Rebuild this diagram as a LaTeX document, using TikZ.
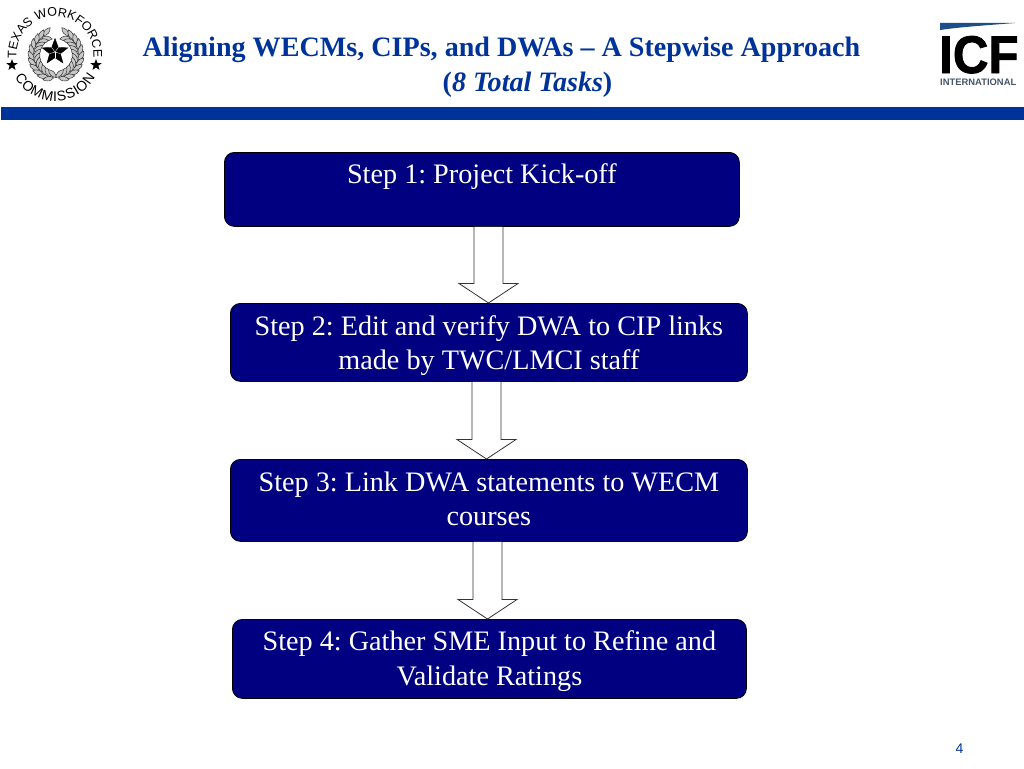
\documentclass[tikz,border=0pt]{standalone}
\usepackage{fontspec}
\setmainfont{Liberation Serif}
\newfontfamily\sansf{Liberation Sans}
\newfontfamily\icff[BoldFeatures={FakeBold=1.5}]{Liberation Sans}
\usetikzlibrary{calc,decorations.text,shapes.geometric}
\definecolor{band}{RGB}{0,51,153}
\definecolor{navybox}{RGB}{0,0,128}
\definecolor{swoosh}{RGB}{28,78,140}
\definecolor{icfgray}{RGB}{70,85,105}
\tikzset{
  x=1pt,y=-1pt,
  stepbox/.style={draw=black,line width=0.8pt,fill=navybox,rounded corners=10pt,text=white,
    align=center,anchor=north west,inner sep=0pt,
    font=\fontsize{28.2}{34.5}\selectfont},
  blockarrow/.style={draw=black!80,line width=0.8pt,fill=white,line join=miter},
  titletext/.style={text=band,font=\fontsize{28.1}{35}\selectfont\bfseries,align=center,inner sep=0pt},
  leaf/.style={draw=black!85,line width=0.45pt,fill=black!22},
  smallstar/.style={star,star points=5,star point ratio=2.4,fill=black,inner sep=0pt,minimum size=12pt},
}
\newcommand{\stepbox}[6]{% name x0 y0 x1 y1 text
  \node[stepbox,minimum width=#4pt-#2pt,minimum height=#5pt-#3pt] (#1) at (#2,#3) {#6};}
\newcommand{\betweenarrow}[3]{% from to centre-x
  \coordinate (s) at (#1.south -| #3,0);
  \coordinate (t) at (#2.north -| #3,0);
  \draw[blockarrow] ($(s)+(-14.5,0)$) -- ($(t)+(-14.5,-19.5)$) -- ($(t)+(-29.5,-19.5)$) -- (t)
    -- ($(t)+(29.5,-19.5)$) -- ($(t)+(14.5,-19.5)$) -- ($(s)+(14.5,0)$);}
\newcommand{\sealleaf}[3]{% angle, radius, rotation
  \draw[leaf,shift={($(wreath)+({#2*cos(#1)},{-#2*sin(#1)})$)},rotate=#3]
    (-5.5,0) .. controls (-2,-3) and (2,-3) .. (5.5,0) .. controls (2,3) and (-2,3) .. (-5.5,0);}
\begin{document}
\begin{tikzpicture}
\frenchspacing
\useasboundingbox (0,0) rectangle (1024,768);
\fill[white] (0,0) rectangle (1024,768);
% band
\fill[band] (1,107) rectangle (1024,120);
% title
\node[titletext] (title) at (501.5,67) {Aligning WECMs, CIPs, and DWAs -- A Stepwise Approach\\\hspace*{52pt}({\itshape 8 Total Tasks})};
% boxes
\stepbox{box1}{224}{152}{739}{226}{\rule{0pt}{23pt}Step 1: Project Kick-off\\~}
\stepbox{box2}{230}{303}{747}{381}{\rule{0pt}{26pt}Step 2: Edit and verify DWA to CIP links\\made by TWC/LMCI staff}
\stepbox{box3}{230}{459}{747}{541}{Step 3: Link DWA statements to WECM\\courses\rule[-3pt]{0pt}{3pt}}
\stepbox{box4}{232}{619}{746}{698}{\rule{0pt}{24pt}Step 4: Gather SME Input to Refine and\\Validate Ratings}
% arrows
\betweenarrow{box1}{box2}{488.5}
\betweenarrow{box2}{box3}{486.5}
\betweenarrow{box3}{box4}{487.5}
% page number
\node[inner sep=0pt,text=band,font=\sansf\fontsize{14}{14}\selectfont] (pagenum) at (959.5,749) {4};
% seal
\coordinate (seal) at (55,55);
\coordinate (wreath) at (56,55);
\path[decorate,decoration={text along path,text align=center,
  text={|\sansf\fontsize{12.5}{12.5}\selectfont|TEXAS WORKFORCE}}]
  ($(seal)+({-38.5*cos(30)},{38.5*sin(30)})$) arc[start angle=150,end angle=390,radius=38.5];
\path[decorate,decoration={text along path,text align={fit to path},
  text={|\sansf\fontsize{14}{14}\selectfont|COMMISSION}}]
  ($(seal)+({-46*cos(29)},{46*sin(29)})$) arc[start angle=151,end angle=29,radius=46];
\node[smallstar] (starl) at (12,65) {};
\node[smallstar] (starr) at (96,65) {};
\foreach \a in {112,126,...,252}{
  \sealleaf{\a}{25}{\a-90+28}
  \sealleaf{\a+7}{19}{\a-90-28}
}
\foreach \a in {68,54,...,-72}{
  \sealleaf{\a}{25}{\a+90-28}
  \sealleaf{\a-7}{19}{\a+90+28}
}
\node[star,star points=5,star point ratio=2.4,fill=black,draw=black,inner sep=0pt,minimum size=27pt] (sealstar) at (55,52) {};
\foreach \i in {1,...,5}{
  \draw[white,line width=0.35pt] (sealstar.center) -- (sealstar.inner point \i);
}
% ICF logo
\fill[swoosh] (940,23) -- (1015,23) .. controls (990,25) and (960,27) .. (940,30) -- cycle;
\node[inner sep=0pt,anchor=base west,xscale=0.93,font=\fontsize{53}{53}\selectfont\icff\bfseries] (icf) at (939,73) {ICF};
\node[inner sep=0pt,anchor=base west,text=icfgray,font=\fontsize{9.4}{9.4}\selectfont\sansf\bfseries] (intl) at (940,85) {INTERNATIONAL};
\end{tikzpicture}
\end{document}
